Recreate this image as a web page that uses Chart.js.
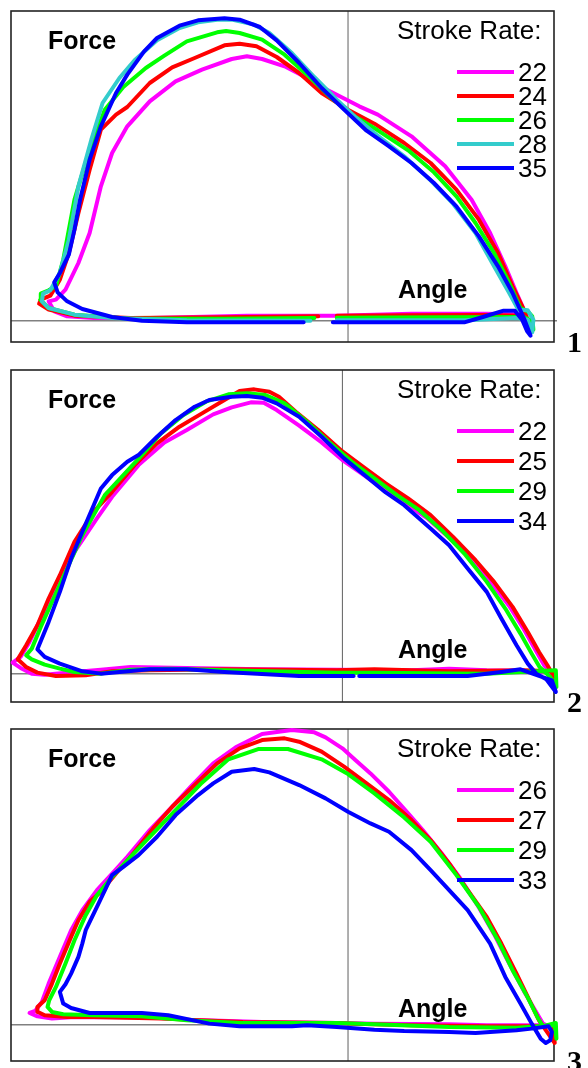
<!DOCTYPE html>
<html>
<head>
<meta charset="utf-8">
<script src="https://cdn.jsdelivr.net/npm/chart.js@4.4.1/dist/chart.umd.min.js"></script>
<style>
  body { margin: 0; background: #fff; }
  .panel { position: absolute; left: 0; width: 588px; }
</style>
</head>
<body>
<div class="panel" style="top:0px"><canvas id="c1" width="588" height="356"></canvas></div>
<div class="panel" style="top:356px"><canvas id="c2" width="588" height="358"></canvas></div>
<div class="panel" style="top:714px"><canvas id="c3" width="588" height="354"></canvas></div>
<script>
// angle (deg) / force pairs, one loop per stroke rate

// panel 1
const rates1 = ['22', '24', '26', '28', '35'];
const p1r22 = [[-4.7,15],[-18,15],[-35.3,8],[-45.3,8],[-50,13],[-52.3,28],[-53.3,58],[-52,63],[-50.3,93],[-48,173],[-46,263],[-44,403],[-42,503],[-39.3,583],[-35.3,658],[-30.7,718],[-26,753],[-20.7,785],[-18,793],[-15.3,785],[-11.3,763],[-7.3,728],[-4,695],[2,643],[5.3,618],[11.3,553],[17.3,463],[22,363],[25.3,263],[28,163],[30,83],[31.3,33],[32.1,-12],[31.7,18],[24.7,21],[11.3,21],[-2,15],[-4.7,15]];
const p1r24 = [[-5.3,13],[-22,10],[-38.7,8],[-48.7,15],[-53.3,33],[-55,51],[-54.7,63],[-53,75],[-51.3,123],[-49.7,203],[-48,323],[-46,453],[-44,573],[-41.3,618],[-39.3,641],[-35.3,713],[-31.3,760],[-27.3,788],[-22,826],[-19.3,831],[-16.3,823],[-12.7,791],[-8.7,743],[-4.7,683],[0,633],[4.7,591],[10,533],[14.7,473],[19.3,393],[23.3,303],[26.7,203],[29.3,103],[31.3,33],[32.5,-22],[31.7,15],[24.7,17],[11.3,16],[-2,15]];
const p1r26 = [[-6,8],[-22,6],[-38.7,6],[-48.7,18],[-53.3,38],[-54.8,63],[-54.7,81],[-53.3,91],[-52,103],[-50.7,183],[-48.7,363],[-46,513],[-43.3,633],[-40,701],[-36,758],[-32.7,795],[-28.7,838],[-23.3,865],[-21.7,869],[-19.3,863],[-15.3,843],[-11.3,798],[-7.3,738],[-3.3,673],[0.7,618],[5.3,571],[10.7,511],[15.3,445],[19.3,373],[22.7,293],[26,203],[28.7,113],[30.7,38],[32,28],[32.8,13],[33,-27],[32.3,3],[31.3,11],[18,10],[-2,9]];
const p1r28 = [[-6.7,0],[-28.7,1],[-42,8],[-48.7,18],[-53.3,38],[-54.5,58],[-54.3,81],[-53,91],[-51.3,143],[-49.7,243],[-48,403],[-45.7,543],[-43.7,653],[-40.7,728],[-38,781],[-34,841],[-30,878],[-26.7,895],[-23.3,903],[-20.7,903],[-16.7,888],[-14,863],[-10,803],[-6,731],[-2,663],[1.3,611],[4.7,563],[10,493],[14.7,421],[18.7,351],[22.7,263],[26,163],[28.7,83],[30.3,33],[32,31],[33,3],[32.8,-35],[32,3],[30,8],[20.7,1],[-2,1]];
const p1r35 = [[-7.9,-5],[-28.7,-5],[-36.7,0],[-42,11],[-47.3,35],[-50,58],[-51.7,85],[-52.3,115],[-51.3,143],[-49.7,198],[-48.7,273],[-47.7,363],[-46,483],[-44,583],[-41.3,683],[-39.3,738],[-36.3,808],[-34,848],[-30,885],[-26.7,901],[-22,907],[-19.3,903],[-15.7,881],[-12.7,841],[-8.7,773],[-4.7,698],[-0.7,633],[3.3,570],[7.3,523],[11.3,473],[15.3,413],[19.3,343],[23.3,253],[26.7,163],[29.3,83],[31.3,8],[32.5,-45],[31.9,-32],[31,3],[29.7,30],[27.7,30],[24,11],[20.7,-5],[-2.7,-5]];

// panel 2
const rates2 = ['22', '25', '29', '34'];
const p2r22 = [[-1,12],[-14.3,13],[-27.7,17],[-37.7,20],[-43,12],[-47.7,5],[-53,-3],[-55.3,0],[-57.3,17],[-58.7,33],[-57.3,50],[-55.7,95],[-53.7,165],[-51.7,235],[-47.7,365],[-43.7,465],[-41,530],[-36.3,625],[-31.7,693],[-27.7,730],[-23,777],[-19.7,798],[-16.3,813],[-14,812],[-11.7,790],[-7.7,743],[-3.7,693],[0,640],[3,605],[7,557],[11,513],[15,467],[19,407],[23,343],[26.3,277],[29.7,203],[32.3,133],[34.3,73],[36,23],[37.5,-3],[36.3,7],[25.7,10],[19,15],[12.3,10],[5.7,11],[-1,12]];
const p2r25 = [[-1,10],[-21,13],[-34.3,10],[-41,7],[-45.7,-5],[-51,-7],[-54.3,3],[-56.3,20],[-57.8,43],[-56.3,85],[-54.3,145],[-52.3,225],[-50.3,295],[-47.7,395],[-44.3,485],[-41,545],[-37,625],[-33,690],[-29,740],[-25,780],[-21,820],[-18.3,847],[-15.7,852],[-13,845],[-11.3,830],[-8.3,785],[-4.3,730],[-0.3,670],[3.7,620],[7.7,570],[11.7,525],[15.7,475],[19.7,410],[23.7,340],[27,275],[30.3,200],[33,125],[35,65],[36.5,25],[38,-20],[37.5,7],[32.3,10],[19,7],[5.7,13],[-1,10]];
const p2r29 = [[-1,3],[-21,10],[-31,15],[-37.7,12],[-43,0],[-47.7,5],[-50.3,15],[-53,27],[-55.3,43],[-56.3,55],[-55.3,75],[-53.7,140],[-51.7,215],[-49,315],[-46.3,415],[-42.3,535],[-39,595],[-35.7,655],[-32.3,720],[-28.3,775],[-24.3,815],[-20.3,837],[-17,840],[-13.7,835],[-10.3,810],[-6.3,755],[-2.3,693],[1.7,635],[5.7,585],[9.7,535],[13.7,490],[17.7,430],[21.7,360],[25.7,275],[29,195],[31.7,120],[33.7,60],[35.1,20],[37,-10],[38.1,-40],[38,10],[34.3,7],[25.7,0],[5.7,3],[-1,3]];
const p2r34 = [[2,-7],[-7.7,-7],[-21,5],[-27.7,13],[-34.3,13],[-39.7,5],[-43,0],[-46.3,7],[-50.3,30],[-53,50],[-54.3,73],[-52.3,155],[-50.3,245],[-48.3,345],[-46.3,425],[-43,555],[-41,595],[-38.3,635],[-36.3,655],[-33,710],[-29.7,760],[-26.3,800],[-23.7,820],[-19.7,830],[-17,832],[-14.3,827],[-11.7,810],[-7.7,770],[-3.7,710],[0.3,645],[4.3,590],[7.7,543],[11,505],[15.7,435],[19,385],[22.3,315],[25.7,245],[28.3,165],[31,85],[33,30],[34.5,0],[36.3,-17],[38,-55],[37.3,-20],[35,-7],[31.7,13],[28.3,5],[22.3,-7],[3,-7]];

// panel 3
const rates3 = ['26', '27', '29', '33'];
const p3r26 = [[-2,5],[-15.3,8],[-28.7,15],[-35.3,21],[-48.7,23],[-52.7,18],[-55.3,25],[-56.7,35],[-55.7,41],[-54.5,68],[-53.3,123],[-51.3,203],[-49.3,283],[-47.3,343],[-44.7,403],[-42,453],[-39.3,503],[-35.3,583],[-31.3,653],[-28,713],[-24,783],[-20,831],[-15.3,871],[-10,883],[-6,876],[-4,861],[-1,828],[1.3,793],[4,753],[7.3,698],[10.7,633],[13.3,583],[16.7,513],[20,438],[23.3,351],[26,271],[28.7,183],[31.3,101],[33.3,43],[34.7,3],[36.3,-9],[35.3,-2],[24.7,-2],[18,1],[4.7,3],[-2,5]];
const p3r27 = [[-2,5],[-18.7,8],[-28.7,15],[-33.3,18],[-45.3,23],[-50,23],[-54,28],[-55.2,38],[-55.3,53],[-54,73],[-52.7,123],[-51.3,183],[-49.3,263],[-48,313],[-46,368],[-44,398],[-41.3,453],[-38.7,503],[-34.7,588],[-31.3,653],[-27.3,718],[-23.3,783],[-19.3,828],[-15.3,853],[-11.3,858],[-8.7,848],[-4.7,818],[-0.7,773],[3.3,723],[7.3,673],[11.3,613],[14.7,553],[18,483],[21.3,403],[24.7,323],[27.3,243],[30,153],[32,83],[34,13],[35.3,-19],[36.8,-55],[36.5,-5],[24.7,-5],[11.3,-2],[1.3,3],[-2,5]];
const p3r29 = [[-2,5],[-19.3,5],[-28.7,13],[-36.7,25],[-45.3,28],[-50.7,31],[-52.7,38],[-53.5,53],[-53.2,73],[-52,113],[-50.3,183],[-48.7,253],[-46.7,328],[-44.7,388],[-42,443],[-38.7,503],[-35.3,563],[-30.7,643],[-26,725],[-21.3,795],[-16,826],[-10.7,826],[-4.7,795],[0,751],[4.7,693],[10,621],[14.7,548],[19.3,448],[23.3,353],[26.7,253],[29.3,163],[32,81],[33.7,23],[34.7,-5],[37,5],[37.1,-42],[36.8,-2],[30,-9],[18,-7],[4.7,1],[-2,5]];
const p3r33 = [[-2,-7],[-7.3,-2],[-10,-5],[-19.3,-5],[-24.7,3],[-32,28],[-36.7,35],[-46,35],[-49.3,50],[-50.7,63],[-51.3,98],[-50.3,121],[-49.3,153],[-48,203],[-47.3,243],[-46.7,283],[-44.7,353],[-42,448],[-40,473],[-37.3,508],[-34,563],[-30.7,628],[-26.7,688],[-24,723],[-20.7,758],[-16.7,766],[-14,756],[-8.7,718],[-4,678],[0,638],[4,603],[7.3,578],[11.3,523],[14.7,463],[18,403],[21.3,343],[25.3,243],[28,143],[30.7,63],[32.7,3],[34.3,-42],[35.2,-55],[36,-47],[36.3,-22],[35.7,-5],[32.7,-12],[30,-17],[25.3,-22],[22.7,-25],[18,-22],[10,-19],[4.7,-15],[-2,-7]];

const MAGENTA = '#ff00ff', RED = '#ff0000', GREEN = '#00ff00', CYAN = '#33cccc', BLUE = '#0000ff';

// box, cross lines and all the text inside/next to each panel
const framePlugin = {
  id: 'frame',
  beforeDatasetsDraw(chart) {
    const { ctx, chartArea: a, scales: { x, y } } = chart;
    ctx.save();
    const x0 = x.getPixelForValue(0);
    const y0 = y.getPixelForValue(0);
    ctx.strokeStyle = '#606060';
    ctx.lineWidth = 1;
    ctx.beginPath();
    ctx.moveTo(x0, a.top);
    ctx.lineTo(x0, a.bottom);
    ctx.stroke();
    ctx.strokeStyle = '#808080';
    ctx.lineWidth = 1.5;
    ctx.beginPath();
    ctx.moveTo(a.left, y0);
    ctx.lineTo(a.right + 3, y0);
    ctx.stroke();
    ctx.strokeStyle = '#222';
    ctx.lineWidth = 1.6;
    ctx.strokeRect(a.left, a.top, a.right - a.left, a.bottom - a.top);
    ctx.restore();
  },
  afterDatasetsDraw(chart, args, o) {
    const { ctx, chartArea: a } = chart;
    ctx.save();
    ctx.fillStyle = '#000';
    ctx.textBaseline = 'alphabetic';
    ctx.textAlign = 'left';
    ctx.font = '26px "Liberation Sans", Arial, sans-serif';
    ctx.fillText('Stroke Rate:', 397, a.top + 28);
    chart.data.datasets.forEach((ds, i) => {
      const ly = a.top + 61 + i * o.step;
      ctx.strokeStyle = ds.borderColor;
      ctx.lineWidth = 4;
      ctx.beginPath();
      ctx.moveTo(457, ly);
      ctx.lineTo(514, ly);
      ctx.stroke();
      ctx.fillText(ds.label, 518, ly + 8.5);
    });
    ctx.font = 'bold 25px "Liberation Sans", Arial, sans-serif';
    ctx.fillText('Force', 48, a.top + 38);
    ctx.fillText('Angle', 398, a.bottom - 44);
    ctx.font = 'bold 30px "Liberation Serif", "Times New Roman", serif';
    ctx.fillText(o.num, 567, a.bottom + 10);
    ctx.restore();
  }
};

function makePanel(id, rates, series, colors, xr, yr, pad, num, step) {
  const datasets = series.map((pts, i) => ({
    label: rates[i],
    data: pts.map(p => ({ x: p[0], y: p[1] })),
    showLine: true,
    borderColor: colors[i],
    borderWidth: 4,
    borderJoinStyle: 'round',
    borderCapStyle: 'round',
    pointRadius: 0,
    tension: 0,
    clip: 10,
    order: series.length - i
  }));
  return new Chart(document.getElementById(id), {
    type: 'scatter',
    data: { datasets: datasets },
    options: {
      responsive: false,
      animation: false,
      layout: { padding: pad },
      scales: {
        x: { type: 'linear', min: xr[0], max: xr[1], display: false },
        y: { type: 'linear', min: yr[0], max: yr[1], display: false }
      },
      plugins: {
        legend: { display: false },
        tooltip: { enabled: false },
        frame: { num: num, step: step }
      }
    },
    plugins: [framePlugin]
  });
}

makePanel('c1', rates1, [p1r22, p1r24, p1r26, p1r28, p1r35],
  [MAGENTA, RED, GREEN, CYAN, BLUE],
  [-60, 36.67], [-64, 929], { left: 11, right: 34, top: 11, bottom: 14 }, '1', 24);

makePanel('c2', rates2, [p2r22, p2r25, p2r29, p2r34],
  [MAGENTA, RED, GREEN, BLUE],
  [-59, 37.67], [-85, 910], { left: 11, right: 34, top: 14, bottom: 12 }, '2', 30);

makePanel('c3', rates3, [p3r26, p3r27, p3r29, p3r33],
  [MAGENTA, RED, GREEN, BLUE],
  [-60, 36.67], [-109, 886], { left: 11, right: 34, top: 15, bottom: 7 }, '3', 30);
</script>
</body>
</html>
